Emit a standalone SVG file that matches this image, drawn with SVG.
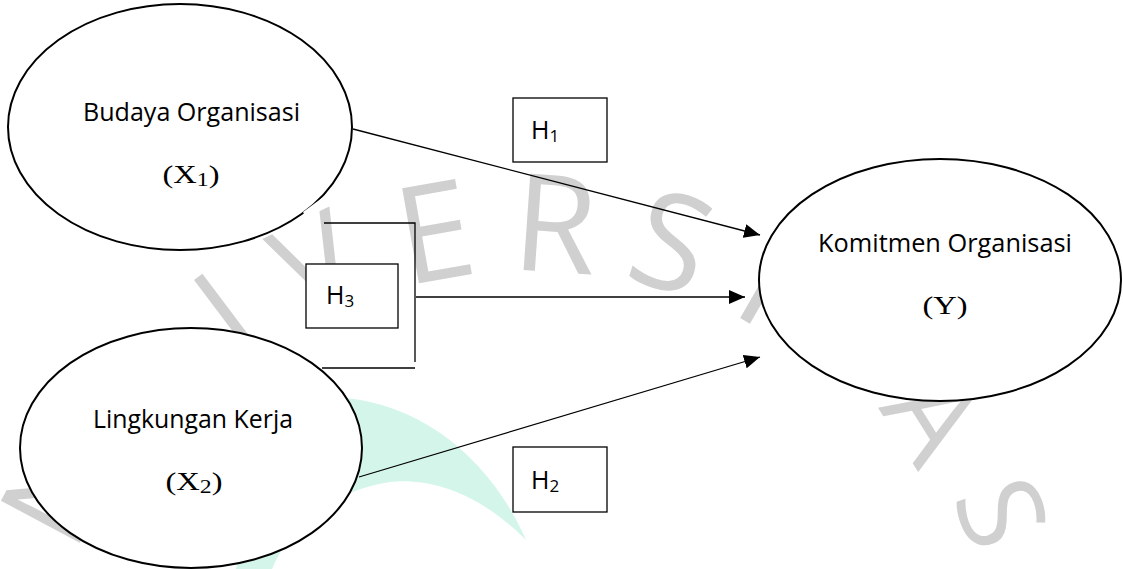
<svg xmlns="http://www.w3.org/2000/svg" width="1123" height="569" viewBox="0 0 1123 569">
<style>
.node{fill:#fff;stroke:#000;stroke-width:2}
.box{fill:#fff;stroke:#000;stroke-width:1.3}
.lbl{font-family:"Open Sans","Liberation Sans",sans-serif;font-size:25px;fill:#000}
.ser{font-family:"Liberation Serif","Times New Roman",serif;font-size:26px;fill:#000}
.conn{fill:none;stroke:#000;stroke-width:1.3}
.wm{font-family:"Open Sans","Liberation Sans",sans-serif;font-weight:400;font-size:125px;fill:#d0d0d0}
</style>
<defs>
<marker id="arr" viewBox="0 0 16 14" markerWidth="16" markerHeight="14" refX="16" refY="7" orient="auto" markerUnits="userSpaceOnUse">
<path d="M0,0 L16,7 L0,14 z" fill="#000"/>
</marker>
</defs>
<rect width="1123" height="569" fill="#fff"/>
<g id="watermark">
<path d="M345,398 C425,405 492,462 526,540 C478,492 430,478 390,482 C335,490 290,525 272,569 L236,569 C255,490 290,420 345,398 Z" fill="#d4f6ea"/>
<g class="wm" text-anchor="middle">
<text transform="translate(96,512) rotate(-62)">N</text>
<text transform="translate(252,348) rotate(-37)">I</text>
<text transform="translate(335,303) rotate(-26)">V</text>
<text transform="translate(443,279) rotate(-10)" font-size="135">E</text>
<text transform="translate(552,272) rotate(4)" font-size="135">R</text>
<text transform="translate(657,288) rotate(18)" font-size="135">S</text>
<text transform="translate(745,321) rotate(30)" font-size="135">I</text>
<text transform="translate(898,440) rotate(58)" font-size="120">A</text>
<text transform="translate(963,527) rotate(70)" font-size="115">S</text>
</g>
</g>
<g id="n_budaya">
<ellipse class="node" cx="180" cy="127" rx="172" ry="123"/>
<polygon points="303,212 322,198 327,205 308,220" fill="#fff"/>
<text class="lbl" x="83" y="121" textLength="217" lengthAdjust="spacingAndGlyphs">Budaya Organisasi</text>
<text class="ser" transform="translate(191,183) scale(1.25,1)" text-anchor="middle">(X<tspan font-size="19" dy="3">1</tspan><tspan dy="-3">)</tspan></text>
</g>
<g id="n_lingkungan">
<ellipse class="node" cx="191" cy="448" rx="171" ry="120"/>
<text class="lbl" x="93" y="428" textLength="200" lengthAdjust="spacingAndGlyphs">Lingkungan Kerja</text>
<text class="ser" transform="translate(194,490) scale(1.25,1)" text-anchor="middle">(X<tspan font-size="19" dy="3">2</tspan><tspan dy="-3">)</tspan></text>
</g>
<g id="n_komitmen">
<ellipse class="node" cx="940" cy="280" rx="181" ry="121"/>
<text class="lbl" x="818" y="252" textLength="254" lengthAdjust="spacingAndGlyphs">Komitmen Organisasi</text>
<text class="ser" transform="translate(945,314) scale(1.25,1)" text-anchor="middle">(Y)</text>
</g>
<g id="h1">
<rect class="box" x="513" y="98" width="94" height="64"/>
<text class="lbl" x="531" y="139">H<tspan font-size="17" dy="3">1</tspan></text>
</g>
<g id="h2">
<rect class="box" x="513" y="447" width="94" height="65"/>
<text class="lbl" x="531" y="489">H<tspan font-size="17" dy="3">2</tspan></text>
</g>
<g id="h3">
<rect class="box" x="306" y="264" width="92" height="64"/>
<text class="lbl" x="326" y="304">H<tspan font-size="17" dy="3">3</tspan></text>
</g>
<g id="connectors">
<path class="conn" d="M324,223 H415 V362"/>
<path class="conn" d="M322,368 H415"/>
<line class="conn" x1="353" y1="129" x2="760" y2="235" marker-end="url(#arr)"/>
<line class="conn" x1="416" y1="297" x2="745" y2="297" marker-end="url(#arr)"/>
<line class="conn" x1="359" y1="477" x2="760" y2="357" marker-end="url(#arr)"/>
</g>
</svg>
